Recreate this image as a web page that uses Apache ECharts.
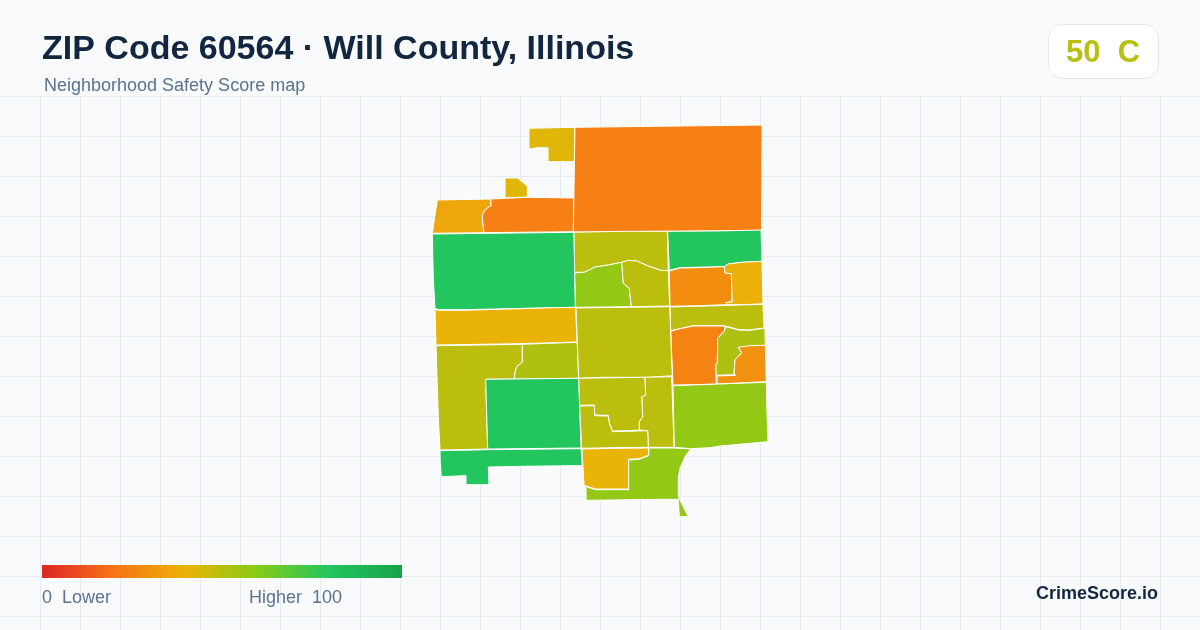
<!DOCTYPE html>
<html>
<head>
<meta charset="utf-8">
<style>html,body{margin:0;padding:0;background:#f8fafc}#c{width:1200px;height:630px}</style>
<script src="https://cdn.jsdelivr.net/npm/echarts@6/dist/echarts.min.js"></script>
</head>
<body>
<div id="c"></div>
<script>
// ---- chart data ----
var titleText = 'ZIP Code 60564 · Will County, Illinois';
var subtitleText = 'Neighborhood Safety Score map';
var gradeText = '50  C';
var legendLow = '0  Lower';
var legendHigh = 'Higher  100';
var brandText = 'CrimeScore.io';
var scaleColors = ['#dc2626', '#f97316', '#eab308', '#84cc16', '#22c55e', '#16a34a'];
var areaNames = ['a1','a2','a3','a4','a5','a6','a7','a8','a9','a10','a11','a12','a13','a14','a15','a16','a17','a18','a19','a20','a21','a22','a23','a24','a25','a26','a27','a28'];
var areaScores = [42,42,36,24,24,80,40,49,52,80,80,49,57,49,80,28,39,49,25,52,29,57,49,49,49,49,40,57];

// ---- boundary outlines of the neighbourhoods (map base layer, x / y on a 1200x630 sheet) ----
var outlines = {
 a1:[[529,128.3],[575,127.3],[575,161.7],[548,161.7],[548,147.7],[537.3,147.7],[529,149]],
 a2:[[505,178],[517.7,178],[527.3,186],[527.3,197],[505,198]],
 a3:[[437.3,200],[490.7,199],[491.3,205.7],[487,208],[484,211.7],[482.5,215],[482.3,218.3],[484,232.7],[432.3,233.3],[435,215]],
 a4:[[490.7,199],[527.3,197.3],[574,198],[573.3,231.7],[484,232.7],[482.3,218.3],[482.5,215],[484,211.7],[487,208],[491.3,205.7]],
 a5:[[575,127.3],[762,125],[761.5,230.5],[667,231.3],[573.3,232]],
 a6:[[432.3,234],[574,232.3],[575.3,307.3],[553.3,307.7],[464,309.7],[439.3,309.7],[435,308.7],[433.3,278]],
 a7:[[435,309.3],[439.3,310.3],[464,310.3],[509.3,309],[553.3,307.7],[575.7,307.3],[577,342],[520,343.7],[436,345]],
 a8:[[436,345.7],[522.3,344.3],[522.3,362.3],[516.7,366.7],[514.7,374],[514.7,379],[485.7,379.3],[487.7,449],[440,450],[438.3,416.7]],
 a9:[[522.3,344.3],[577.3,342.3],[578.7,378.3],[514.7,379],[514.7,374],[516.7,366.7],[522.3,362.3]],
 a10:[[485.7,379.3],[578.7,378.3],[581,448],[487.7,449]],
 a11:[[440,450.7],[487.7,449.7],[581,448.7],[582.3,465.7],[571,465.7],[521.7,466.3],[488.3,467],[489,484.7],[466,484.7],[466,475.7],[441.3,476.7],[440.3,462.7]],
 a12:[[574,232.3],[621.7,231.3],[667.3,231.3],[668.3,270.7],[660.7,270.3],[648.3,266],[636.7,261],[628.3,260.3],[621.7,262.3],[608.3,265],[595,267],[584.3,272.3],[574.7,272.3]],
 a13:[[574.7,273],[584.3,272.3],[595,267],[608.3,265],[621.7,262.3],[623.3,283.3],[629.3,288.3],[631.3,306.7],[575.7,307.3]],
 a14:[[621.7,262.3],[628.3,260.3],[636.7,261],[648.3,266],[660.7,270.3],[668.3,270.7],[669.7,306],[631.3,306.7],[629.3,288.3],[623.3,283.3]],
 a15:[[667.7,231.3],[715,231],[761,230],[762,261.3],[741.7,262.3],[728.3,264],[724.3,266.7],[695,267.3],[680,267.7],[669.3,270.3]],
 a16:[[669.3,271],[680,268],[695,267.7],[724.3,266.7],[725,273],[731.3,273.7],[732.3,301.7],[725.7,302.7],[725.3,304.7],[698.3,305.7],[670,306.3]],
 a17:[[724.3,266.7],[728.3,264],[741.7,262.3],[762,261.3],[763,303.7],[745,304.7],[725.3,304.7],[725.7,302.7],[732.3,301.7],[731.3,273.7],[725,273]],
 a18:[[670,307],[698.3,306.3],[763,304.3],[764,328],[748.3,330],[739,329.7],[726.7,326.3],[721.7,325.7],[693.3,325.7],[680,328.7],[670.7,330.7]],
 a19:[[670.7,331.3],[680,328.7],[693.3,326],[725,326],[724.3,331],[717.7,338.3],[717.3,363.3],[715.7,364],[716.3,384],[695,384.7],[673,385]],
 a20:[[725.7,326.7],[739,330],[748.3,330.5],[765,328.3],[765.3,346],[749.3,346.3],[738.3,348],[741.7,352.7],[735,360],[734,374],[735.7,374.7],[716.3,375.3],[715.7,364],[717.3,363.3],[717.7,338.3],[724.3,331]],
 a21:[[738.3,347.3],[749.3,345.7],[765.3,345.3],[766.3,381.7],[745,382.7],[717,384],[717,376],[735.7,375.3],[734,374],[735,360],[741.7,352.7]],
 a22:[[673,385.7],[766.3,382.3],[766.7,403.3],[768,441.7],[720,446],[710,447.7],[690.7,448.7],[674.3,447.3]],
 a23:[[576,308],[669.7,306.7],[672.3,375.7],[648.3,377.3],[602.3,377.3],[578.7,378.3]],
 a24:[[644.7,377.3],[671.7,376.7],[674,447.3],[648.3,447.3],[647.7,430.7],[639.3,430],[639.3,421.7],[642.7,416.7],[641.7,396.7],[645.7,395]],
 a25:[[578.7,378.3],[644.7,377.3],[645.7,395],[641.7,396.7],[642.7,416.7],[639.3,421.7],[639.3,430],[627.3,430.7],[612.7,431],[609.3,423.3],[608.3,415.3],[594.7,415],[594.3,405],[579.7,405.3]],
 a26:[[579.7,406],[594.3,405.7],[594.7,415.7],[608.3,416],[609.3,423.3],[612.7,431.7],[627.3,431.3],[647.7,430.7],[648.3,447.3],[613.3,447.7],[581.7,448.3]],
 a27:[[582,449],[613.3,448.3],[648.3,448],[648.7,455],[639.3,458.7],[628.7,459.3],[628.7,489],[595.7,489],[590,487.3],[584,485]],
 a28:[[649,448],[674.3,448],[690.7,449],[685,456.7],[680,468.3],[678.3,476.7],[678.3,496.7],[688.3,516.7],[679.3,516.7],[678.3,499.3],[655,499.3],[609.3,500],[586,500.3],[586,486.3],[590,488],[595.7,489.7],[628.7,489.7],[628.7,460],[639.3,459.3],[648.7,455.7]]
};

echarts.registerMap('zip60564', {
  type: 'FeatureCollection',
  features: areaNames.map(function (n) {
    var ring = outlines[n].map(function (p) { return [p[0], 630 - p[1]]; });
    ring.push(ring[0]);
    return { type: 'Feature', properties: { name: n }, geometry: { type: 'Polygon', coordinates: [ring] } };
  })
});

var font = '"Liberation Sans", Arial, sans-serif';
var elements = [];
var gridColor = '#e4ecf1';
for (var x = 40; x < 1200; x += 40) {
  elements.push({ type: 'line', silent: true, z: 0, shape: { x1: x + .5, y1: 96, x2: x + .5, y2: 630 }, style: { stroke: gridColor, lineWidth: 1 } });
}
for (var y = 96; y < 630; y += 40) {
  elements.push({ type: 'line', silent: true, z: 0, shape: { x1: 0, y1: y + .5, x2: 1200, y2: y + .5 }, style: { stroke: gridColor, lineWidth: 1 } });
}
function text(t, x, y, size, weight, color, align) {
  elements.push({ type: 'text', silent: true, z: 5, x: x, y: y, style: { text: t, fill: color, align: align || 'left', verticalAlign: 'top', font: weight + ' ' + size + 'px ' + font } });
}
text(titleText, 42, 33, 34, 'bold', '#12263f');
text(subtitleText, 44, 77, 18, 'normal', '#5b7290');
elements.push({ type: 'rect', silent: true, z: 4, shape: { x: 1048.5, y: 24.5, width: 110, height: 54, r: 14 }, style: { fill: '#ffffff', stroke: '#e2e8f0', lineWidth: 1 } });
text(gradeText, 1103, 38, 31, 'bold', '#b7bf0f', 'center');
elements.push({ type: 'rect', silent: true, z: 4, shape: { x: 42, y: 565, width: 360, height: 13 },
  style: { fill: new echarts.graphic.LinearGradient(0, 0, 1, 0, scaleColors.map(function (c, i) { return { offset: i / (scaleColors.length - 1), color: c }; })) } });
text(legendLow, 42, 589, 18, 'normal', '#5b7290');
text(legendHigh, 249, 589, 18, 'normal', '#5b7290');
text(brandText, 1158, 585, 18, 'bold', '#12263f', 'right');

var chart = echarts.init(document.getElementById('c'), null, { renderer: 'canvas' });
chart.setOption({
  animation: false,
  backgroundColor: '#f8fafc',
  tooltip: { show: false },
  graphic: { elements: elements },
  visualMap: { show: false, type: 'continuous', min: 0, max: 100, seriesIndex: 0, inRange: { color: scaleColors } },
  series: [{
    type: 'map', map: 'zip60564', roam: false, silent: true, z: 2,
    aspectScale: 1,
    left: 0, top: 0, width: 1200, height: 630,
    boundingCoords: [[0, 630], [1200, 0]],
    label: { show: false },
    itemStyle: { borderColor: '#ffffff', borderWidth: 1 },
    emphasis: { disabled: true },
    data: areaNames.map(function (n, i) { return { name: n, value: areaScores[i] }; })
  }]
});
</script>
</body>
</html>
